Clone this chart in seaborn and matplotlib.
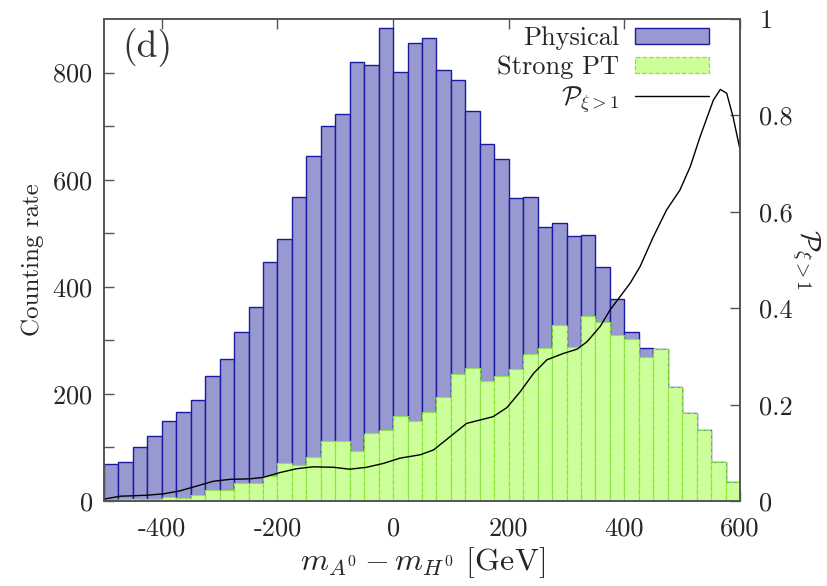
import numpy as np
import pandas as pd
import matplotlib
matplotlib.use("Agg")
import matplotlib.pyplot as plt
import seaborn as sns
from matplotlib.patches import Patch
from matplotlib.lines import Line2D


# bin left edges, width 25 GeV
bin_left = list(range(-500, 600, 25))

physical = [70, 73, 100, 122, 150, 167, 189, 234, 266, 315, 363, 446, 489, 568,
            644, 701, 723, 820, 815, 884, 801, 856, 865, 805, 787, 728, 667, 639,
            565, 568, 511, 520, 495, 497, 437, 377, 316, 285, 283, 212, 164, 132,
            73, 35]

strong_pt = [2, 3, 4, 4, 8, 5, 11, 21, 21, 33, 33, 47, 71, 67, 83, 113, 113, 93,
             127, 132, 159, 149, 167, 195, 238, 248, 224, 233, 247, 274, 285, 328,
             287, 346, 335, 310, 303, 269, 283, 212, 164, 132, 73, 35]

prob_x = [-500, -472, -426, -397, -369, -340, -311, -282, -248, -225, -196, -167,
          -138, -103, -75, -46, -17, 12, 47, 70, 98, 127, 150, 173, 197, 220,
          243, 266, 294, 318, 335, 358, 375, 410, 427, 450, 473, 496, 514, 531,
          554, 566, 577, 588, 599, 600]
prob_y = [0.004, 0.01, 0.012, 0.015, 0.021, 0.031, 0.041, 0.045, 0.046, 0.049,
          0.059, 0.067, 0.071, 0.07, 0.066, 0.07, 0.078, 0.089, 0.096, 0.106,
          0.133, 0.161, 0.168, 0.175, 0.194, 0.227, 0.265, 0.293, 0.306, 0.315,
          0.33, 0.362, 0.396, 0.452, 0.486, 0.548, 0.604, 0.645, 0.694, 0.756,
          0.832, 0.854, 0.846, 0.797, 0.735, 0.73]

x_ticks = [-400, -200, 0, 200, 400, 600]
x_ticklabels = ["-400", "-200", "0", "200", "400", "600"]
y_ticks = [0, 200, 400, 600, 800]
p_ticks = [0, 0.2, 0.4, 0.6, 0.8, 1]
p_ticklabels = ["0", "0.2", "0.4", "0.6", "0.8", "1"]

sns.set_style("ticks")
plt.rcParams["font.family"] = ["cmr10", "DejaVu Serif"]
plt.rcParams["mathtext.fontset"] = "cm"
plt.rcParams["axes.unicode_minus"] = False
plt.rcParams["axes.formatter.use_mathtext"] = True

blue_face = "#9999d1"
blue_edge = "#1a1aa0"
green_face = "#ccff99"
green_edge = "#88e830"

edges = bin_left + [600]
centers = [b + 12.5 for b in bin_left]
df = pd.DataFrame({"x": centers, "phys": physical, "spt": strong_pt})

fig = plt.figure(figsize=(8.27, 5.86), dpi=100)
ax = fig.add_axes([0.1258, 0.145, 0.7690, 0.8225])

sns.histplot(data=df, x="x", weights="phys", bins=edges, ax=ax,
             color=blue_face, edgecolor=blue_edge, linewidth=1.0, alpha=1)
sns.histplot(data=df, x="x", weights="spt", bins=edges, ax=ax,
             color=green_face, edgecolor=green_edge, linewidth=0.9,
             linestyle="--", alpha=1)

ax.set_xlim(-500, 600)
ax.set_ylim(0, 900)
ax.set_xticks(x_ticks)
ax.set_xticklabels(x_ticklabels)
ax.set_yticks(y_ticks)
ax.set_yticks(range(100, 900, 200), minor=True)
ax.tick_params(axis="both", which="both", direction="in", labelsize=19,
               color="#555555", top=True, right=False, length=7, width=1)
ax.tick_params(axis="x", pad=11)
ax.tick_params(axis="y", pad=8)
ax.set_xlabel(r"$m_{A^0} - m_{H^0}$ [GeV]", fontsize=23, labelpad=4)
ax.set_ylabel("Counting rate", fontsize=18, labelpad=6)
for s in ax.spines.values():
    s.set_color("#555555")
    s.set_linewidth(1.2)

ax2 = ax.twinx()
sns.lineplot(x=prob_x, y=prob_y, ax=ax2, color="black", linewidth=1.0)
ax2.set_ylim(0, 1)
ax2.set_xlim(-500, 600)
ax2.set_yticks(p_ticks)
ax2.set_yticklabels(p_ticklabels)
ax2.tick_params(axis="y", direction="in", labelsize=19, color="#555555",
                length=7, width=1, pad=14)
ax2.set_ylabel(r"$\mathcal{P}_{\xi>1}$", fontsize=20, rotation=270, labelpad=20)
for s in ax2.spines.values():
    s.set_color("#555555")
    s.set_linewidth(1.2)

ax.text(0.069, 0.94, "(d)", transform=ax.transAxes, fontsize=27,
        ha="center", va="center", color="#333333")

handles = [
    Patch(facecolor=blue_face, edgecolor=blue_edge, linewidth=1.0),
    Patch(facecolor=green_face, edgecolor=green_edge, linewidth=0.9, linestyle="--"),
    Line2D([0], [0], color="black", linewidth=1.0),
]
labels = ["Physical", "Strong PT", r"$\mathcal{P}_{\xi>1}$"]
ax2.legend(handles, labels, loc="upper right", bbox_to_anchor=(0.951, 0.985),
           frameon=False, markerfirst=False, fontsize=19, handlelength=2.8,
           handleheight=0.55, labelspacing=0.2, handletextpad=0.6,
           borderpad=0, borderaxespad=0)

fig.savefig("out.png", dpi=100)
